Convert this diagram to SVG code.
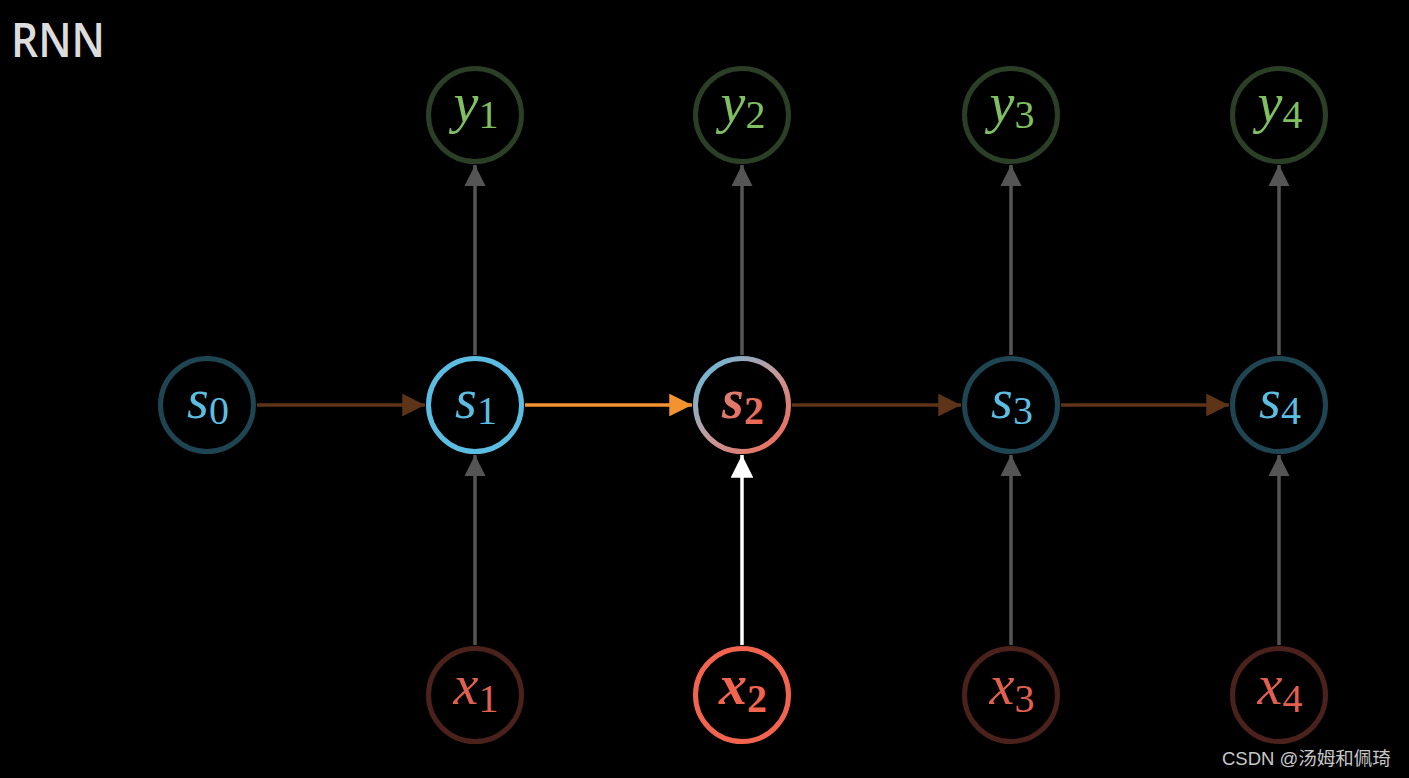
<svg xmlns="http://www.w3.org/2000/svg" width="1409" height="778" viewBox="0 0 1409 778">
<defs>
<style>
.n{fill:#000;stroke-width:5}
.s{stroke:#1f4552}
.y{stroke:#2b3e26}
.x{stroke:#4b211b}
.lab{font-family:"Liberation Serif","DejaVu Serif",serif;font-size:56px;text-anchor:middle}
.lab tspan.sub{font-style:normal;font-size:40px}
.ts{fill:#5cbde2}
.ty{fill:#7fbf62}
.tx{fill:#e0604f}
.v{stroke:#555;stroke-width:3.5;fill:none}
.h{stroke:#5e3418;stroke-width:3.5;fill:none}
</style>
<marker id="agv" viewBox="0 0 10 10" refX="10" refY="5" markerWidth="6" markerHeight="6" orient="auto"><path d="M0,0 L10,5 L0,10 z" fill="#555"/></marker>
<marker id="ab" viewBox="0 0 10 10" refX="10" refY="5" markerWidth="6.5" markerHeight="6.5" orient="auto"><path d="M0,0 L10,5 L0,10 z" fill="#5e3418"/></marker>
<marker id="ao" viewBox="0 0 10 10" refX="10" refY="5" markerWidth="6.5" markerHeight="6.5" orient="auto"><path d="M0,0 L10,5 L0,10 z" fill="#f29330"/></marker>
<marker id="aw" viewBox="0 0 10 10" refX="10" refY="5" markerWidth="6.5" markerHeight="6.5" orient="auto"><path d="M0,0 L10,5 L0,10 z" fill="#fff"/></marker>
<linearGradient id="gs2" x1="0" y1="0" x2="1" y2="1">
<stop offset="0" stop-color="#5cbde2"/>
<stop offset="0.5" stop-color="#c49a9c"/>
<stop offset="1" stop-color="#f3644f"/>
</linearGradient>
<linearGradient id="gt2" x1="0" y1="0" x2="1" y2="1">
<stop offset="0" stop-color="#d88a80"/>
<stop offset="1" stop-color="#f0604e"/>
</linearGradient>
</defs>
<rect width="1409" height="778" fill="#000"/>
<text x="11" y="57" font-family="'Open Sans',sans-serif" font-weight="600" font-size="47" textLength="94" lengthAdjust="spacingAndGlyphs" fill="#dcdcdc">RNN</text>

<g id="connectors">
<line class="h" x1="257" y1="405" x2="425" y2="405" marker-end="url(#ab)"/>
<line x1="525" y1="405" x2="692" y2="405" stroke="#f29330" stroke-width="3.5" marker-end="url(#ao)"/>
<line class="h" x1="792" y1="405" x2="961" y2="405" marker-end="url(#ab)"/>
<line class="h" x1="1061" y1="405" x2="1229" y2="405" marker-end="url(#ab)"/>
<line class="v" x1="475" y1="355" x2="475" y2="165" marker-end="url(#agv)"/>
<line class="v" x1="742" y1="355" x2="742" y2="165" marker-end="url(#agv)"/>
<line class="v" x1="1011" y1="355" x2="1011" y2="165" marker-end="url(#agv)"/>
<line class="v" x1="1279" y1="355" x2="1279" y2="165" marker-end="url(#agv)"/>
<line class="v" x1="475" y1="645" x2="475" y2="455" marker-end="url(#agv)"/>
<line x1="742" y1="645" x2="742" y2="455" stroke="#fff" stroke-width="3.5" marker-end="url(#aw)"/>
<line class="v" x1="1011" y1="645" x2="1011" y2="455" marker-end="url(#agv)"/>
<line class="v" x1="1279" y1="645" x2="1279" y2="455" marker-end="url(#agv)"/>
</g>

<g id="s0"><circle class="n s" cx="207" cy="405" r="46.5"/><text class="lab ts" x="208" y="418"><tspan font-style="italic">s</tspan><tspan class="sub" dy="6">0</tspan></text></g>
<g id="s1"><circle class="n" cx="475" cy="405" r="46.5" stroke="#5cbde2"/><text class="lab ts" x="476" y="418"><tspan font-style="italic">s</tspan><tspan class="sub" dy="6">1</tspan></text></g>
<g id="s2"><circle class="n" cx="742" cy="405" r="46.5" stroke="url(#gs2)"/><text class="lab" x="743" y="418" fill="url(#gt2)" font-weight="bold"><tspan font-style="italic">s</tspan><tspan class="sub" dy="6">2</tspan></text></g>
<g id="s3"><circle class="n s" cx="1011" cy="405" r="46.5"/><text class="lab ts" x="1012" y="418"><tspan font-style="italic">s</tspan><tspan class="sub" dy="6">3</tspan></text></g>
<g id="s4"><circle class="n s" cx="1279" cy="405" r="46.5"/><text class="lab ts" x="1280" y="418"><tspan font-style="italic">s</tspan><tspan class="sub" dy="6">4</tspan></text></g>

<g id="y1"><circle class="n y" cx="475" cy="115" r="46.5"/><text class="lab ty" x="476" y="122"><tspan font-style="italic">y</tspan><tspan class="sub" dy="6">1</tspan></text></g>
<g id="y2"><circle class="n y" cx="742" cy="115" r="46.5"/><text class="lab ty" x="743" y="122"><tspan font-style="italic">y</tspan><tspan class="sub" dy="6">2</tspan></text></g>
<g id="y3"><circle class="n y" cx="1011" cy="115" r="46.5"/><text class="lab ty" x="1012" y="122"><tspan font-style="italic">y</tspan><tspan class="sub" dy="6">3</tspan></text></g>
<g id="y4"><circle class="n y" cx="1279" cy="115" r="46.5"/><text class="lab ty" x="1280" y="122"><tspan font-style="italic">y</tspan><tspan class="sub" dy="6">4</tspan></text></g>

<g id="x1"><circle class="n x" cx="475" cy="695" r="46.5"/><text class="lab tx" x="476" y="704"><tspan font-style="italic">x</tspan><tspan class="sub" dy="8">1</tspan></text></g>
<g id="x2"><circle class="n" cx="742" cy="695" r="46.5" stroke="#f3644f"/><text class="lab" x="743" y="704" fill="#f3644f" font-weight="bold"><tspan font-style="italic">x</tspan><tspan class="sub" dy="8">2</tspan></text></g>
<g id="x3"><circle class="n x" cx="1011" cy="695" r="46.5"/><text class="lab tx" x="1012" y="704"><tspan font-style="italic">x</tspan><tspan class="sub" dy="8">3</tspan></text></g>
<g id="x4"><circle class="n x" cx="1279" cy="695" r="46.5"/><text class="lab tx" x="1280" y="704"><tspan font-style="italic">x</tspan><tspan class="sub" dy="8">4</tspan></text></g>

<text x="1222" y="765" font-family="'Liberation Sans','Noto Sans CJK SC',sans-serif" font-size="18.5" fill="#c8c8c8">CSDN @汤姆和佩琦</text>
</svg>
